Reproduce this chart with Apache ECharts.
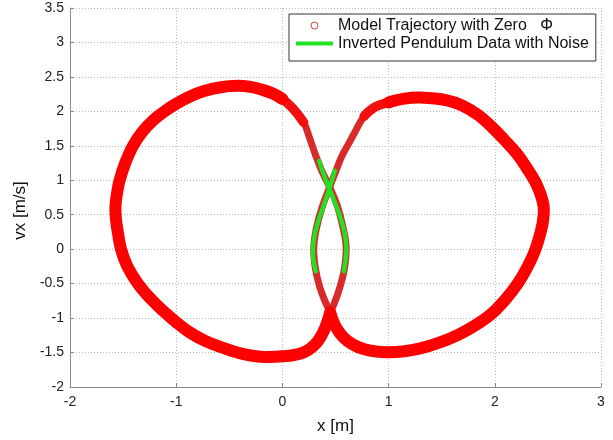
<!DOCTYPE html>
<html>
<head>
<meta charset="utf-8">
<script src="https://cdn.jsdelivr.net/npm/echarts@6/dist/echarts.min.js"></script>
<style>html,body{margin:0;padding:0;background:#fff}#c{width:613px;height:440px}</style>
</head>
<body>
<div id="c"></div>
<script>
// Axis ranges / ticks
var xTicks = [-2, -1, 0, 1, 2, 3];
var yTicks = [-2, -1.5, -1, -0.5, 0, 0.5, 1, 1.5, 2, 2.5, 3, 3.5];

// Left loop of the model trajectory (starts at left extreme, runs clockwise)
var leftLoop = [
  [-1.572,0.62],[-1.553,0.85],[-1.533,1.0],[-1.48,1.25],[-1.407,1.5],[-1.32,1.70],
  [-1.21,1.88],[-1.10,2.01],[-1.0,2.11],[-0.87,2.215],[-0.738,2.295],[-0.58,2.35],
  [-0.424,2.37],[-0.30,2.355],[-0.204,2.32],[-0.09,2.26],[0.0,2.18],[0.10,2.04],
  [0.20,1.84],[0.257,1.61],[0.31,1.375],[0.37,1.14],[0.445,0.90],[0.515,0.64],
  [0.566,0.349],[0.60,0.04],[0.585,-0.272],[0.54,-0.56],[0.49,-0.78],[0.45,-0.92],
  [0.40,-1.15],[0.32,-1.36],[0.195,-1.50],[0.0,-1.555],[-0.204,-1.562],[-0.424,-1.50],
  [-0.58,-1.42],[-0.738,-1.323],[-0.88,-1.20],[-1.0,-1.06],[-1.12,-0.90],[-1.24,-0.72],
  [-1.36,-0.50],[-1.46,-0.25],[-1.52,0.0],[-1.548,0.23],[-1.566,0.42]
];
// Right loop of the model trajectory (starts at right extreme, runs clockwise)
var rightLoop = [
  [2.46,0.62],[2.457,0.45],[2.44,0.30],[2.383,0.0],[2.31,-0.25],[2.215,-0.5],[2.10,-0.73],
  [1.96,-0.95],[1.80,-1.12],[1.645,-1.25],[1.47,-1.36],[1.30,-1.44],[1.15,-1.48],
  [1.0,-1.495],[0.88,-1.485],[0.764,-1.45],[0.66,-1.38],[0.575,-1.28],[0.50,-1.12],
  [0.45,-0.92],[0.40,-0.75],[0.35,-0.54],[0.31,-0.272],[0.295,0.014],[0.32,0.301],
  [0.372,0.60],[0.445,0.90],[0.50,1.12],[0.56,1.35],[0.62,1.52],[0.69,1.72],
  [0.77,1.93],[0.87,2.06],[1.0,2.13],[1.15,2.185],[1.30,2.20],[1.55,2.16],
  [1.70,2.08],[1.85,1.94],[1.98,1.76],[2.10,1.57],[2.21,1.38],[2.30,1.18],
  [2.38,0.98],[2.43,0.80]
];
// Measured pendulum data (two strands)
var pendulumA = [
  [0.314,-0.320],[0.289,-0.105],[0.295,0.135],[0.336,0.397],[0.399,0.683],[0.446,0.898],[0.493,1.137]
];
var pendulumB = [
  [0.345,1.281],[0.399,1.042],[0.462,0.802],[0.534,0.516],[0.587,0.229],[0.603,-0.009],[0.578,-0.320]
];

var modelName = 'Model Trajectory with Zero   \u03A6';
var dataName = 'Inverted Pendulum Data with Noise';
var RED = '#ff0000';
var MID_RED = '#f01010';
var THIN_RED = '#d92a2a';
var GREEN = '#22e022';
var FONT = 'Liberation Sans, Arial, sans-serif';

function idxOf(arr, p) {
  for (var i = 0; i < arr.length; i++) if (arr[i][0] === p[0] && arr[i][1] === p[1]) return i;
  return 0;
}
// dense (thick) parts of each loop: wrap across the starting point
function wrapSlice(arr, fromPt, toPt) {
  var a = idxOf(arr, fromPt), b = idxOf(arr, toPt);
  return b >= a ? arr.slice(a, b + 1) : arr.slice(a).concat(arr.slice(0, b + 1));
}
var leftThick = wrapSlice(leftLoop, [0.45,-0.92], [0.0,2.18]);
var leftMid = wrapSlice(leftLoop, [-0.09,2.26], [0.20,1.84]);
var rightThick = wrapSlice(rightLoop, [1.0,2.13], [0.45,-0.92]);
var rightMid = wrapSlice(rightLoop, [0.77,1.93], [1.15,2.185]);

// A smooth curve through the given data points, drawn via the cartesian axes
function curve(name, points, width, color, closed, z) {
  return {
    type: 'custom', name: name, coordinateSystem: 'cartesian2d',
    data: points, encode: {x: 0, y: 1}, z: z, silent: true, clip: true,
    color: color,
    renderItem: function (params, api) {
      if (params.dataIndex !== 0) return null;
      var pts = points.map(function (p) { return api.coord(p); });
      return {
        type: closed ? 'polygon' : 'polyline',
        shape: {points: pts, smooth: 0.4},
        style: {fill: 'none', stroke: color, lineWidth: width, lineJoin: 'round', lineCap: 'round'},
        silent: true
      };
    }
  };
}

var series = [
  curve(modelName, leftLoop, 7, THIN_RED, true, 2),
  curve(modelName, rightLoop, 7, THIN_RED, true, 2),
  curve(modelName, leftMid, 9.5, MID_RED, false, 3),
  curve(modelName, rightMid, 9.5, MID_RED, false, 3),
  curve(modelName, leftThick, 12, RED, false, 4),
  curve(modelName, rightThick, 12, RED, false, 4),
  curve(dataName, pendulumA, 4.5, GREEN, false, 5),
  curve(dataName, pendulumB, 4.5, GREEN, false, 5)
];

var chart = echarts.init(document.getElementById('c'), null, {renderer: 'canvas'});
chart.setOption({
  animation: false,
  backgroundColor: '#fff',
  textStyle: {fontFamily: FONT},
  grid: {left: 70, right: 12, top: 8, bottom: 48, containLabel: false},
  legend: {
    orient: 'vertical', left: 289, top: 14,
    padding: [3, 7, 9, 7], itemGap: 1,
    itemWidth: 37, itemHeight: 7,
    borderColor: '#333', borderWidth: 1, backgroundColor: '#fff',
    textStyle: {fontSize: 16, color: '#111', fontFamily: FONT, lineHeight: 17},
    data: [
      {name: modelName, icon: 'circle', itemStyle: {color: '#fff', borderColor: '#d04040', borderWidth: 1}},
      {name: dataName, icon: 'path://M0,0L37,0L37,4L0,4Z', itemStyle: {color: GREEN}}
    ]
  },
  xAxis: {
    type: 'value', min: xTicks[0], max: xTicks[xTicks.length - 1], interval: 1,
    name: 'x [m]', nameLocation: 'middle', nameGap: 31,
    nameTextStyle: {fontSize: 17, color: '#111', fontFamily: FONT},
    axisLine: {show: true, onZero: false, lineStyle: {color: '#888', width: 1}},
    axisTick: {show: true, inside: true, length: 4, lineStyle: {color: '#888'}},
    axisLabel: {fontSize: 14, color: '#222', margin: 8, fontFamily: FONT},
    splitLine: {show: true, lineStyle: {color: '#bbb', type: [1, 2], width: 1}}
  },
  yAxis: {
    type: 'value', min: yTicks[0], max: yTicks[yTicks.length - 1], interval: 0.5,
    name: 'vx [m/s]', nameLocation: 'middle', nameGap: 39,
    nameTextStyle: {fontSize: 17, color: '#111', fontFamily: FONT, padding: [0, 26, 0, 0]},
    axisLine: {show: true, onZero: false, lineStyle: {color: '#888', width: 1}},
    axisTick: {show: true, inside: true, length: 4, lineStyle: {color: '#888'}},
    axisLabel: {fontSize: 14, color: '#222', margin: 6, fontFamily: FONT},
    splitLine: {show: true, lineStyle: {color: '#bbb', type: [1, 2], width: 1}}
  },
  series: series
});
</script>
</body>
</html>
